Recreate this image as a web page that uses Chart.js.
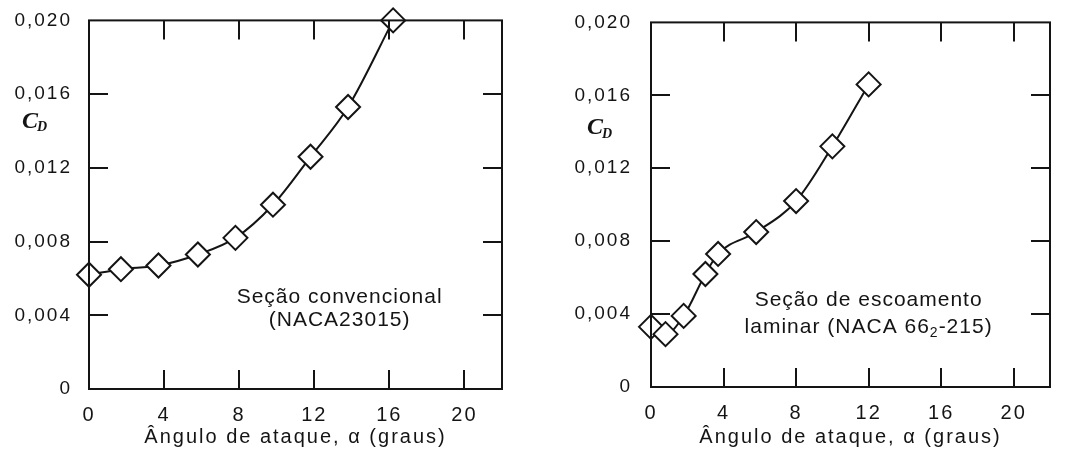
<!DOCTYPE html>
<html>
<head>
<meta charset="utf-8">
<script src="https://cdn.jsdelivr.net/npm/chart.js@4/dist/chart.umd.min.js"></script>
<style>
  html, body { margin: 0; padding: 0; background: #fff; }
  body { width: 1065px; height: 461px; position: relative; overflow: hidden; }
  .panel { position: absolute; top: 0; height: 461px; }
  #left { left: 0; width: 530px; }
  #right { left: 530px; width: 535px; }
</style>
</head>
<body>
<div class="panel" id="left"><canvas id="cLeft" width="530" height="461"></canvas></div>
<div class="panel" id="right"><canvas id="cRight" width="535" height="461"></canvas></div>
<script>
// Drag coefficient versus angle of attack for two airfoil sections
const ANGLE_CONV = [0, 1.7, 3.7, 5.8, 7.8, 9.8, 11.8, 13.8, 16.2];
const CD_CONV    = [0.0062, 0.0065, 0.0067, 0.0073, 0.0082, 0.0100, 0.0126, 0.0153, 0.0200];

const ANGLE_LAM  = [0, 0.8, 1.8, 3.0, 3.7, 5.8, 8.0, 10.0, 12.0];
const CD_LAM     = [0.0033, 0.0029, 0.0039, 0.0062, 0.0073, 0.0085, 0.0102, 0.0132, 0.0166];

const X_TICKS = [0, 4, 8, 12, 16, 20];
const Y_TICKS = [0, 0.004, 0.008, 0.012, 0.016, 0.020];
const Y_TICK_LABELS = ['0', '0,004', '0,008', '0,012', '0,016', '0,020'];
const X_TITLE = 'Ângulo de ataque, α (graus)';

const INK = '#141414';
const SANS = '"Liberation Sans", Arial, Helvetica, sans-serif';
const SERIF = '"Liberation Serif", "Times New Roman", serif';
const SPACING = '2px';

// Canvas letter spacing gets reset whenever the canvas is resized, so reapply it
const spacingPlugin = {
  id: 'spacing',
  beforeUpdate(chart) { chart.ctx.letterSpacing = SPACING; },
  beforeLayout(chart) { chart.ctx.letterSpacing = SPACING; },
  beforeDraw(chart) { chart.ctx.letterSpacing = SPACING; }
};

// Closed frame with inward-pointing tick marks on all four sides
const framePlugin = {
  id: 'frame',
  afterDraw(chart, args, opts) {
    const { ctx, chartArea: a, scales } = chart;
    const len = opts.tickLen;
    ctx.save();
    ctx.strokeStyle = INK;
    ctx.lineWidth = 2;
    ctx.lineCap = 'butt';
    ctx.strokeRect(a.left, a.top, a.right - a.left, a.bottom - a.top);
    ctx.beginPath();
    X_TICKS.forEach(v => {
      if (v <= scales.x.min || v >= scales.x.max) return;
      const px = Math.round(scales.x.getPixelForValue(v));
      ctx.moveTo(px, a.bottom); ctx.lineTo(px, a.bottom - len);
      ctx.moveTo(px, a.top); ctx.lineTo(px, a.top + len);
    });
    Y_TICKS.forEach(v => {
      if (v <= scales.y.min || v >= scales.y.max) return;
      const py = Math.round(scales.y.getPixelForValue(v));
      ctx.moveTo(a.left, py); ctx.lineTo(a.left + len, py);
      ctx.moveTo(a.right, py); ctx.lineTo(a.right - len, py);
    });
    ctx.stroke();
    ctx.restore();
  }
};

// C_D axis label and the section description inside the plot
const notesPlugin = {
  id: 'notes',
  afterDraw(chart, args, opts) {
    const { ctx, chartArea: a, scales } = chart;
    ctx.save();
    ctx.fillStyle = INK;
    ctx.letterSpacing = '0px';
    // C_D
    const cy = scales.y.getPixelForValue(opts.cdAt);
    const cx = a.left - opts.cdOffset;
    ctx.textBaseline = 'middle';
    ctx.textAlign = 'left';
    ctx.font = 'italic bold 24px ' + SERIF;
    ctx.fillText('C', cx, cy);
    const cw = ctx.measureText('C').width;
    ctx.font = 'italic bold 14px ' + SERIF;
    ctx.fillText('D', cx + cw - 1, cy + 6);

    // Description lines (each line is a list of [text, isSubscript])
    ctx.letterSpacing = '1px';
    const mid = scales.x.getPixelForValue(opts.noteX);
    opts.lines.forEach(line => {
      const y = scales.y.getPixelForValue(line.y);
      const parts = line.parts;
      let total = 0;
      parts.forEach(p => {
        ctx.font = (p[1] ? '14px ' : '21px ') + SANS;
        total += ctx.measureText(p[0]).width;
      });
      let x = mid - total / 2;
      parts.forEach(p => {
        ctx.font = (p[1] ? '14px ' : '21px ') + SANS;
        ctx.fillText(p[0], x, p[1] ? y + 6 : y);
        x += ctx.measureText(p[0]).width;
      });
    });
    ctx.restore();
  }
};

function makeChart(canvasId, xs, ys, layout, notes) {
  const points = xs.map((x, i) => ({ x: x, y: ys[i] }));
  return new Chart(document.getElementById(canvasId), {
    type: 'scatter',
    data: {
      datasets: [{
        data: points,
        showLine: true,
        cubicInterpolationMode: 'monotone',
        borderColor: INK,
        borderWidth: 2,
        pointStyle: 'rectRot',
        pointRadius: 12,
        pointBorderWidth: 2,
        pointBorderColor: INK,
        pointBackgroundColor: '#ffffff',
        clip: false
      }]
    },
    options: {
      responsive: false,
      animation: false,
      events: [],
      layout: { padding: { top: layout.top, right: layout.right, left: 0, bottom: 0 } },
      plugins: {
        legend: { display: false },
        tooltip: { enabled: false },
        frame: { tickLen: 19 },
        notes: notes
      },
      scales: {
        x: {
          type: 'linear',
          min: 0, max: 22,
          grid: { display: false },
          border: { display: false },
          afterBuildTicks: s => { s.ticks = X_TICKS.map(v => ({ value: v })); },
          afterFit: s => { s.height = layout.xHeight; },
          ticks: {
            color: INK,
            padding: 6,
            font: { family: SANS, size: 20 },
            callback: v => String(v)
          },
          title: {
            display: true,
            text: X_TITLE,
            color: INK,
            font: { family: SANS, size: 20 },
            padding: { top: 0, bottom: layout.titleBottom }
          }
        },
        y: {
          type: 'linear',
          min: 0, max: 0.020,
          grid: { display: false },
          border: { display: false },
          afterBuildTicks: s => { s.ticks = Y_TICKS.map(v => ({ value: v })); },
          afterFit: s => { s.width = layout.yWidth; },
          ticks: {
            color: INK,
            padding: layout.yPad,
            font: { family: SANS, size: 19 },
            callback: v => Y_TICK_LABELS[Y_TICKS.findIndex(t => Math.abs(t - v) < 1e-9)]
          }
        }
      }
    },
    plugins: [spacingPlugin, framePlugin, notesPlugin]
  });
}

makeChart('cLeft', ANGLE_CONV, CD_CONV,
  { top: 19, right: 28, yWidth: 89, xHeight: 72, yPad: 9, titleBottom: 12 },
  {
    cdAt: 0.0145, cdOffset: 67, noteX: 13.35,
    lines: [
      { y: 0.00497, parts: [['Seção convencional', false]] },
      { y: 0.00373, parts: [['(NACA23015)', false]] }
    ]
  });

makeChart('cRight', ANGLE_LAM, CD_LAM,
  { top: 20, right: 15, yWidth: 121, xHeight: 74, yPad: 11, titleBottom: 12 },
  {
    cdAt: 0.0142, cdOffset: 64, noteX: 12.0,
    lines: [
      { y: 0.00474, parts: [['Seção de escoamento', false]] },
      { y: 0.00327, parts: [['laminar (NACA 66', false], ['2', true], ['-215)', false]] }
    ]
  });
</script>
</body>
</html>
